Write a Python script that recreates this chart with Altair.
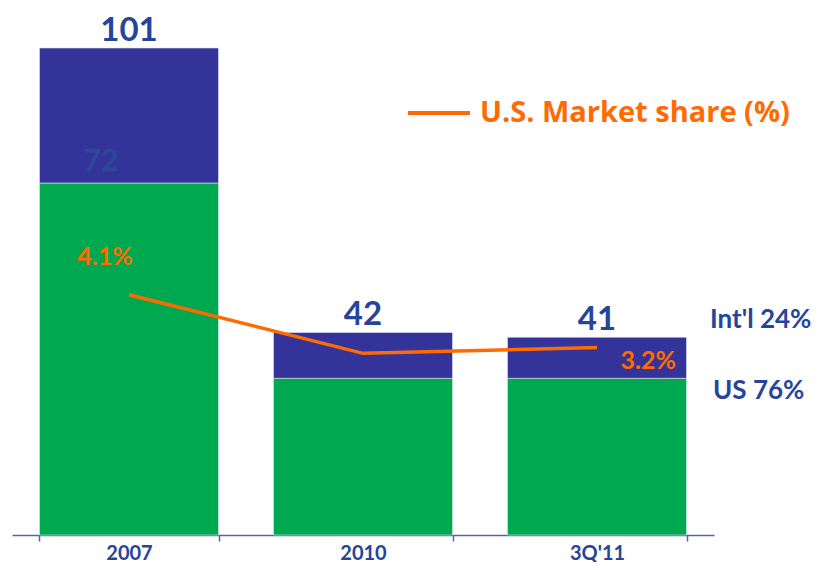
import altair as alt
import pandas as pd

periods = ["2007", "2010", "3Q'11"]
totals = [101, 42, 41]
us_values = [73, 32.5, 32.5]
share_pct = [4.1, 3.1, 3.2]
share_labels = ["4.1%", "", "3.2%"]
us_inner_labels = ["72", "", ""]
segments = ["US", "Int'l"]
side_labels = ["US 76%", "Int'l 24%"]

GREEN = "#00A94F"
PURPLE = "#333399"
ORANGE = "#FF6B00"
BLUE_TXT = "#26459A"
FONT = "Lato"

rows = []
for p, t, u in zip(periods, totals, us_values):
    rows.append({"period": p, "segment": "US", "value": u, "ord": 0})
    rows.append({"period": p, "segment": "Int'l", "value": round(t - u, 2), "ord": 1})
bars_df = pd.DataFrame(rows)

summary_df = pd.DataFrame({
    "period": periods,
    "total": totals,
    "us": us_values,
    "share": share_pct,
    "share_label": share_labels,
    "us_label": us_inner_labels,
})

BAR_DOMAIN = [0, 101]
LINE_DOMAIN = [0, 8.31]

x_enc = alt.X(
    "period:N",
    sort=periods,
    scale=alt.Scale(paddingInner=0.235, paddingOuter=0.1175),
    axis=alt.Axis(
        title=None, labelAngle=0, tickBand="extent", domainColor="#4A68B0",
        tickColor="#4A68B0", domainWidth=1.5, tickWidth=1.5, tickSize=6,
        labelColor=BLUE_TXT, labelFont=FONT, labelFontSize=20,
        labelFontWeight="bold", labelPadding=2, grid=False,
    ),
)

bars = alt.Chart(bars_df).mark_bar(stroke="#dfe6f0", strokeWidth=0.6).encode(
    x=x_enc,
    y=alt.Y("value:Q", stack="zero", scale=alt.Scale(domain=BAR_DOMAIN, nice=False), axis=None),
    color=alt.Color("segment:N", scale=alt.Scale(domain=segments, range=[GREEN, PURPLE]), legend=None),
    order=alt.Order("ord:Q"),
)

total_text = alt.Chart(summary_df).mark_text(
    dy=-7, baseline="alphabetic", align="center", font=FONT, fontSize=33,
    fontWeight="bold", color=BLUE_TXT,
).encode(
    x=x_enc,
    y=alt.Y("total:Q", scale=alt.Scale(domain=BAR_DOMAIN, nice=False), axis=None),
    text="total:Q",
)

us_text = alt.Chart(summary_df).mark_text(
    dx=-28, dy=-21, baseline="middle", align="center", font=FONT, fontSize=30,
    fontWeight="bold", color="#2A4A98",
).encode(
    x=x_enc,
    y=alt.Y("us:Q", scale=alt.Scale(domain=BAR_DOMAIN, nice=False), axis=None),
    text="us_label:N",
)

side_df = pd.DataFrame({
    "period": ["3Q'11", "3Q'11"],
    "yv": [us_values[2], totals[2]],
    "label": side_labels,
})
side_us = alt.Chart(side_df.iloc[[0]]).mark_text(
    dx=116, dy=13, align="left", baseline="middle", font=FONT, fontSize=26,
    fontWeight="bold", color=BLUE_TXT,
).encode(
    x=x_enc,
    y=alt.Y("yv:Q", scale=alt.Scale(domain=BAR_DOMAIN, nice=False), axis=None),
    text="label:N",
)
side_intl = alt.Chart(side_df.iloc[[1]]).mark_text(
    dx=113, dy=-17, align="left", baseline="middle", font=FONT, fontSize=26,
    fontWeight="bold", color=BLUE_TXT,
).encode(
    x=x_enc,
    y=alt.Y("yv:Q", scale=alt.Scale(domain=BAR_DOMAIN, nice=False), axis=None),
    text="label:N",
)

line = alt.Chart(summary_df).mark_line(color=ORANGE, strokeWidth=3.5).encode(
    x=x_enc,
    y=alt.Y("share:Q", scale=alt.Scale(domain=LINE_DOMAIN, nice=False), axis=None),
)

share_text_left = alt.Chart(summary_df.iloc[[0]]).mark_text(
    dx=-24, dy=-38, align="center", baseline="middle", font=FONT, fontSize=25,
    fontWeight="bold", color=ORANGE,
).encode(
    x=x_enc,
    y=alt.Y("share:Q", scale=alt.Scale(domain=LINE_DOMAIN, nice=False), axis=None),
    text="share_label:N",
)
share_text_right = alt.Chart(summary_df.iloc[[2]]).mark_text(
    dx=79, dy=14, align="right", baseline="middle", font=FONT, fontSize=25,
    fontWeight="bold", color=ORANGE,
).encode(
    x=x_enc,
    y=alt.Y("share:Q", scale=alt.Scale(domain=LINE_DOMAIN, nice=False), axis=None),
    text="share_label:N",
)

legend_line = alt.Chart(summary_df.iloc[[0]]).mark_rule(color=ORANGE, strokeWidth=4).encode(
    x=alt.value(396), x2=alt.value(458), y=alt.value(65),
)
legend_text = alt.Chart(summary_df.iloc[[0]]).mark_text(
    align="left", baseline="middle", font="Open Sans", fontSize=29, fontWeight="bold", color=ORANGE,
).encode(
    x=alt.value(468), y=alt.value(65), text=alt.value("U.S. Market share (%)"),
)

chart = alt.layer(
    bars, total_text, us_text, side_us, side_intl,
    line, share_text_left, share_text_right, legend_line, legend_text,
).resolve_scale(y="independent").properties(
    width=702, height=487,
    autosize=alt.AutoSizeParams(type="none"),
    padding={"left": 4, "top": 40, "right": 97, "bottom": 27},
    background="white",
).configure_view(stroke=None)

chart.save("out.html", embed_options={"renderer": "svg", "actions": False})
